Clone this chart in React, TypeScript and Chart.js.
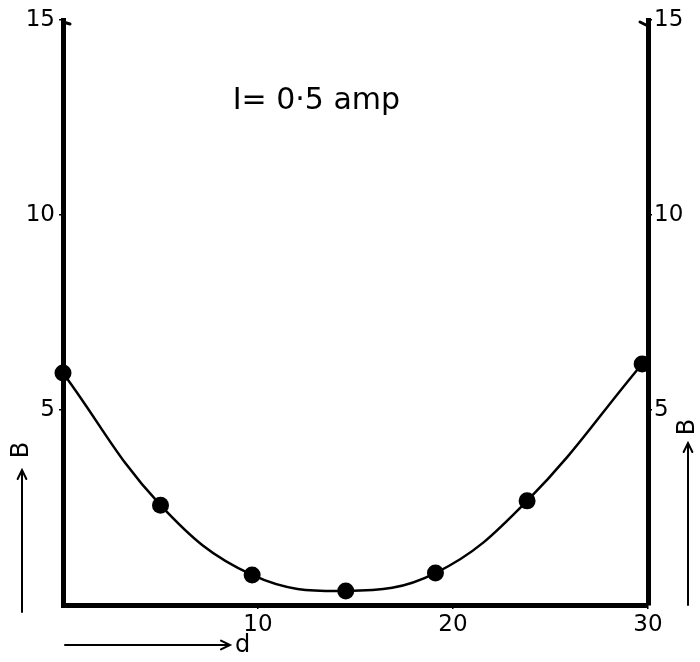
import { useEffect, useRef } from 'react';
import { Chart, registerables } from 'chart.js';

Chart.register(...registerables);

// Measured field B against distance d at a coil current of 0.5 A
const distance = [0, 5, 9.7, 14.5, 19.1, 23.8, 29.7];
const field = [5.95, 2.56, 0.77, 0.36, 0.82, 2.67, 6.18];

const xTicks = [10, 20, 30];
const yTicks = [5, 10, 15];

const titleText = 'I= 0·5 amp';
const xLabel = 'd';
const yLabel = 'B';

const FONT = '"DejaVu Sans", sans-serif';

function arrow(ctx: CanvasRenderingContext2D, x1: number, y1: number, x2: number, y2: number) {
  const a = Math.atan2(y2 - y1, x2 - x1);
  const h = 10;
  ctx.beginPath();
  ctx.moveTo(x1, y1);
  ctx.lineTo(x2, y2);
  ctx.moveTo(x2 - h * Math.cos(a - 0.45), y2 - h * Math.sin(a - 0.45));
  ctx.lineTo(x2, y2);
  ctx.lineTo(x2 - h * Math.cos(a + 0.45), y2 - h * Math.sin(a + 0.45));
  ctx.stroke();
}

const labelsPlugin = {
  id: 'labels',
  afterDraw(chart: any) {
    const { ctx, chartArea, scales } = chart;
    const x = scales.x;
    const y = scales.y;
    ctx.save();
    ctx.fillStyle = '#000';
    ctx.strokeStyle = '#000';
    ctx.lineCap = 'round';

    // current annotation inside the plot
    ctx.font = `30px ${FONT}`;
    ctx.textAlign = 'left';
    ctx.textBaseline = 'alphabetic';
    ctx.fillText(titleText, x.getPixelForValue(8.7), y.getPixelForValue(12.72));

    // small hooks at the top of both vertical axes
    ctx.lineWidth = 3;
    ctx.beginPath();
    ctx.moveTo(chartArea.left, chartArea.top + 2);
    ctx.lineTo(chartArea.left + 7, chartArea.top + 4);
    ctx.moveTo(chartArea.right, chartArea.top + 6);
    ctx.lineTo(chartArea.right - 8, chartArea.top + 2);
    ctx.stroke();

    // d axis label with arrow
    ctx.lineWidth = 2;
    const ay = chartArea.bottom + 40;
    arrow(ctx, chartArea.left + 2, ay, chartArea.left + 167, ay);
    ctx.font = `24px ${FONT}`;
    ctx.textBaseline = 'middle';
    ctx.fillText(xLabel, chartArea.left + 172, ay + 1);

    // B axis labels with upward arrows on both sides
    arrow(ctx, 22, chartArea.bottom + 7, 22, chartArea.bottom - 135);
    arrow(ctx, 688, chartArea.bottom, 688, chartArea.bottom - 162);
    ctx.font = `24px ${FONT}`;
    ctx.textAlign = 'center';
    for (const [cx, cy] of [[22, chartArea.bottom - 155], [688, chartArea.bottom - 178]]) {
      ctx.save();
      ctx.translate(cx, cy);
      ctx.rotate(-Math.PI / 2);
      ctx.fillText(yLabel, 0, 0);
      ctx.restore();
    }
    ctx.restore();
  },
};

export default function App() {
  const canvasRef = useRef<HTMLCanvasElement | null>(null);

  useEffect(() => {
    const canvas = canvasRef.current;
    if (!canvas) return;

    const tickFont = { family: FONT, size: 23 };
    const axisGrid = {
      display: true,
      drawOnChartArea: false,
      drawTicks: true,
      tickLength: 4,
      lineWidth: 1.5,
      color: '#000',
    };
    const axisBorder = { display: true, width: 5, color: '#000' };

    const chart = new Chart(canvas, {
      type: 'scatter',
      data: {
        datasets: [
          {
            data: distance.map((d, i) => ({ x: d, y: field[i] })),
            showLine: true,
            tension: 0.4,
            borderColor: '#000',
            borderWidth: 2.5,
            backgroundColor: '#000',
            pointRadius: 8.5,
            pointBorderWidth: 0,
            clip: false,
          } as any,
        ],
      },
      options: {
        responsive: false,
        animation: false,
        layout: { padding: { top: 20, left: 0, right: 0, bottom: 0 } },
        plugins: {
          legend: { display: false },
          tooltip: { enabled: false },
          title: { display: false },
        },
        scales: {
          x: {
            type: 'linear',
            min: 0,
            max: 30,
            grid: axisGrid,
            border: axisBorder,
            afterBuildTicks: (s: any) => {
              s.ticks = xTicks.map((v) => ({ value: v }));
            },
            afterFit: (s: any) => {
              s.height = 57;
            },
            ticks: { color: '#000', font: tickFont, padding: 2, maxRotation: 0 },
          },
          y: {
            type: 'linear',
            position: 'left',
            min: 0,
            max: 15,
            grid: axisGrid,
            border: axisBorder,
            afterBuildTicks: (s: any) => {
              s.ticks = yTicks.map((v) => ({ value: v }));
            },
            afterFit: (s: any) => {
              s.width = 63;
            },
            ticks: { color: '#000', font: tickFont, padding: 4 },
          },
          y2: {
            type: 'linear',
            position: 'right',
            min: 0,
            max: 15,
            grid: axisGrid,
            border: axisBorder,
            afterBuildTicks: (s: any) => {
              s.ticks = yTicks.map((v) => ({ value: v }));
            },
            afterFit: (s: any) => {
              s.width = 52;
            },
            ticks: { color: '#000', font: tickFont, padding: 2 },
          },
        },
      } as any,
      plugins: [labelsPlugin],
    });

    return () => chart.destroy();
  }, []);

  return (
    <div style={{ position: 'absolute', left: 0, top: 0, width: 700, height: 662, background: '#fff' }}>
      <canvas ref={canvasRef} width={700} height={662} style={{ display: 'block' }} />
    </div>
  );
}
